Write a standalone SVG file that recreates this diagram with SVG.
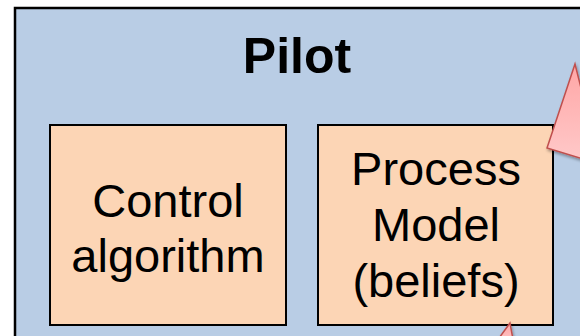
<svg xmlns="http://www.w3.org/2000/svg" width="580" height="336" viewBox="0 0 580 336">
  <style>
    .box { fill: #fcd5b5; stroke: #000; stroke-width: 2; }
    .lbl { font-family: "Liberation Sans", Arial, sans-serif; font-size: 47px; fill: #000; text-anchor: middle; }
    .title { font-family: "Liberation Sans", Arial, sans-serif; font-size: 50px; font-weight: bold; fill: #000; text-anchor: middle; }
    .callout { fill: url(#pinkGrad); stroke: #c0504d; stroke-width: 1.5; filter: url(#shadow); }
  </style>
  <defs>
    <linearGradient id="pinkGrad" x1="0" y1="0" x2="0" y2="1">
      <stop offset="0" stop-color="#ffa6a6"/>
      <stop offset="1" stop-color="#ffcaca"/>
    </linearGradient>
    <filter id="shadow" x="-30%" y="-30%" width="160%" height="160%">
      <feGaussianBlur in="SourceAlpha" stdDeviation="1.5"/>
      <feOffset dx="1" dy="2" result="b"/>
      <feComponentTransfer><feFuncA type="linear" slope="0.35"/></feComponentTransfer>
      <feMerge><feMergeNode/><feMergeNode in="SourceGraphic"/></feMerge>
    </filter>
  </defs>
  <rect width="580" height="336" fill="#ffffff"/>
  <g id="pilot">
    <rect x="15" y="8" width="580" height="340" fill="#b9cde5" stroke="#000" stroke-width="2.5"/>
    <text class="title" x="297" y="73">Pilot</text>
  </g>
  <g id="control-algorithm">
    <rect class="box" x="50" y="125" width="236" height="200"/>
    <text class="lbl" x="168" y="217">Control</text>
    <text class="lbl" x="168" y="272">algorithm</text>
  </g>
  <g id="process-model">
    <rect class="box" x="318" y="125" width="235" height="200"/>
    <text class="lbl" x="436" y="185">Process</text>
    <text class="lbl" x="436" y="241">Model</text>
    <text class="lbl" x="436" y="297">(beliefs)</text>
  </g>
  <g id="connectors">
    <polygon class="callout" points="575,64 547,148 600,164"/>
    <polygon class="callout" points="510,323 494,345 514,345"/>
  </g>
</svg>
